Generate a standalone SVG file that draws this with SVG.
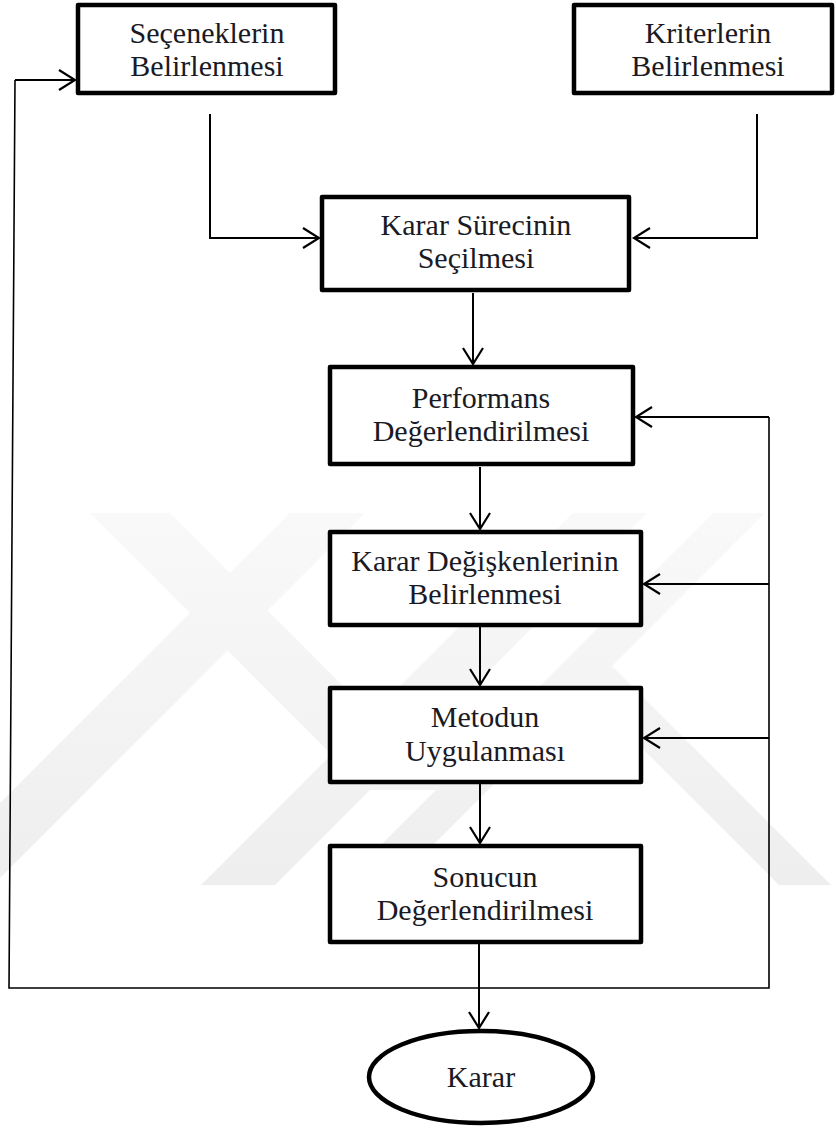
<svg xmlns="http://www.w3.org/2000/svg" width="836" height="1135" viewBox="0 0 836 1135">
<style>
.box{fill:#fff;stroke:#000;stroke-width:4.5;stroke-linejoin:round}
.lbl{font-family:"Liberation Serif","Times New Roman",serif;font-size:30px;fill:#1a1a24;text-anchor:middle}
.con{fill:none;stroke:#000;stroke-width:2}
.thin{fill:none;stroke:#000;stroke-width:1.6}
.wm{fill:url(#wmg)}
</style>
<defs>
<linearGradient id="wmg" x1="0" y1="513" x2="0" y2="885" gradientUnits="userSpaceOnUse">
<stop offset="0" stop-color="#f9f9f9"/>
<stop offset="1" stop-color="#eeeeee"/>
</linearGradient>
<marker id="arr" markerUnits="userSpaceOnUse" viewBox="0 0 20 24" refX="18" refY="12" markerWidth="20" markerHeight="24" orient="auto">
<path d="M2,2 L18,12 L2,22" fill="none" stroke="#000" stroke-width="2.2"/>
</marker>
</defs>
<rect width="836" height="1135" fill="#fff"/>
<g id="watermark">
<polygon class="wm" points="90,513 170,513 447,790 367,790"/>
<polygon class="wm" points="290,513 365,513 0,878 0,803"/>
<polygon class="wm" points="573,513 647,513 275,885 201,885"/>
<polygon class="wm" points="713,513 765,513 612,666 831,885 779,885 560,666"/>
<polygon class="wm" points="560,666 612,666 393,885 341,885"/>
</g>
<g id="connectors">
<path class="thin" d="M15,80 L9,988 L769,988 L769,417"/>
<path class="con" d="M15,80 L75,80" marker-end="url(#arr)"/>
<path class="con" d="M210,114 L210,238 L319,238" marker-end="url(#arr)"/>
<path class="con" d="M757,114 L757,238 L634,238" marker-end="url(#arr)"/>
<path class="con" d="M473,293 L473,364" marker-end="url(#arr)"/>
<path class="con" d="M480,467 L480,529" marker-end="url(#arr)"/>
<path class="con" d="M480,627 L480,685" marker-end="url(#arr)"/>
<path class="con" d="M480,784 L480,843" marker-end="url(#arr)"/>
<path class="con" d="M479,944 L479,1028" marker-end="url(#arr)"/>
<path class="con" d="M769,417 L636,417" marker-end="url(#arr)"/>
<path class="con" d="M769,584 L644,584" marker-end="url(#arr)"/>
<path class="con" d="M769,738 L644,738" marker-end="url(#arr)"/>
</g>
<g id="n1">
<rect class="box" x="78" y="5" width="257" height="88"/>
<text class="lbl" x="207" y="43">Seçeneklerin</text>
<text class="lbl" x="207" y="76">Belirlenmesi</text>
</g>
<g id="n2">
<rect class="box" x="574" y="5" width="258" height="88"/>
<text class="lbl" x="708" y="43">Kriterlerin</text>
<text class="lbl" x="708" y="76">Belirlenmesi</text>
</g>
<g id="n3">
<rect class="box" x="322" y="197" width="307" height="93"/>
<text class="lbl" x="476" y="235">Karar Sürecinin</text>
<text class="lbl" x="476" y="268">Seçilmesi</text>
</g>
<g id="n4">
<rect class="box" x="330" y="367" width="303" height="97"/>
<text class="lbl" x="481" y="408">Performans</text>
<text class="lbl" x="481" y="441">Değerlendirilmesi</text>
</g>
<g id="n5">
<rect class="box" x="330" y="532" width="311" height="93"/>
<text class="lbl" x="485" y="571">Karar Değişkenlerinin</text>
<text class="lbl" x="485" y="604">Belirlenmesi</text>
</g>
<g id="n6">
<rect class="box" x="330" y="688" width="311" height="94"/>
<text class="lbl" x="485" y="727">Metodun</text>
<text class="lbl" x="485" y="761">Uygulanması</text>
</g>
<g id="n7">
<rect class="box" x="330" y="846" width="311" height="96"/>
<text class="lbl" x="485" y="887">Sonucun</text>
<text class="lbl" x="485" y="920">Değerlendirilmesi</text>
</g>
<g id="n8">
<ellipse class="box" cx="481" cy="1077" rx="112" ry="46"/>
<text class="lbl" x="481" y="1087">Karar</text>
</g>
</svg>
